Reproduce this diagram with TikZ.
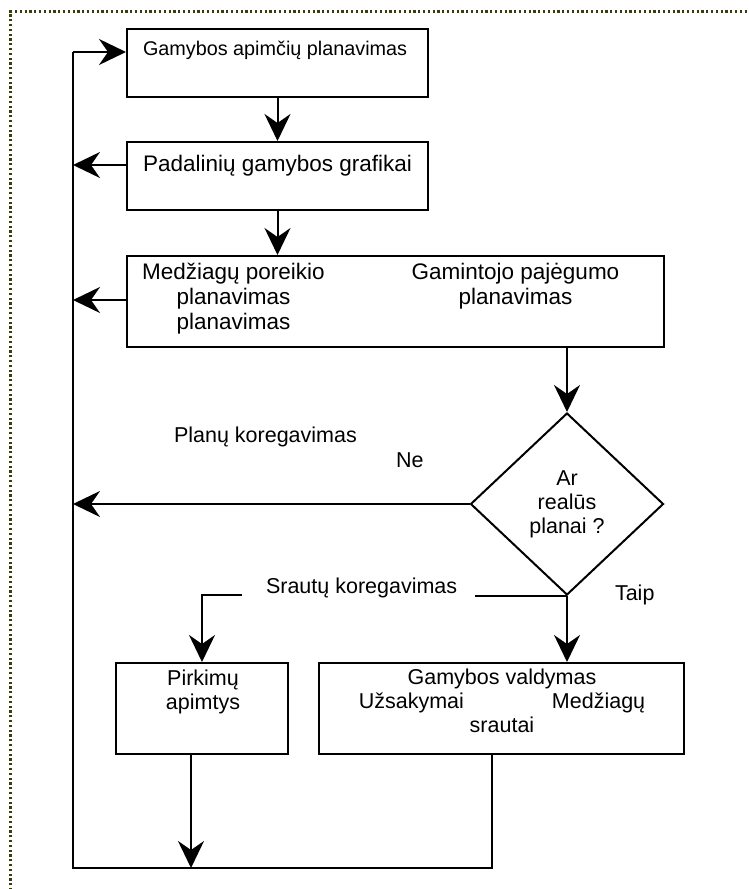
\documentclass[tikz,border=0pt]{standalone}
\usepackage{fontspec}
\setmainfont{Liberation Sans}
\usetikzlibrary{arrows.meta,shapes.geometric}
\definecolor{frameol}{RGB}{60,60,10}

\begin{document}
\begin{tikzpicture}[x=1pt,y=-1pt,line width=2pt,
    box/.style={draw,rectangle,inner sep=0pt},
    txt/.style={inner sep=0pt,align=center,font=\fontsize{21.5}{24}\selectfont},
    bigtxt/.style={txt,font=\fontsize{22.5}{25}\selectfont},
    smalltxt/.style={txt,font=\fontsize{19.8}{22}\selectfont},
    arr/.style={-{Stealth[length=27pt,width=26pt,inset=9pt]}},
    frame/.style={draw=frameol,line width=2.4pt,dash pattern=on 2.2pt off 2.6pt}]
  \useasboundingbox (0,0) rectangle (749,889);
  \draw[frame] (10.5,895) |- (755,11.5);
  % boxes
  \node[box,minimum width=301pt,minimum height=68pt] (plan) at (277.5,63) {};
  \node[box,minimum width=301pt,minimum height=68pt] (graf) at (277.5,176) {};
  \node[box,minimum width=537pt,minimum height=91pt] (poreik) at (395.5,301.5) {};
  \node[draw,diamond,minimum width=193pt,minimum height=182pt,txt] (realu) at (567,504) {Ar\\realūs\\planai ?};
  \node[box,minimum width=172pt,minimum height=91pt] (pirk) at (202,708.5) {};
  \node[box,minimum width=365pt,minimum height=91pt] (valdym) at (501.5,708.5) {};
  % texts
  \node[smalltxt,anchor=base west] (planTxt) at (142,55) {Gamybos apimčių planavimas};
  \node[bigtxt,anchor=base west] (grafTxt) at (142,171) {Padalinių gamybos grafikai};
  \node[bigtxt,anchor=north] (medzTxt) at (233.5,262) {Medžiagų poreikio\\planavimas\\planavimas};
  \node[bigtxt,anchor=north] (pajegTxt) at (515.5,262) {Gamintojo pajėgumo\\planavimas};
  \node[txt,anchor=north] (pirkTxt) at (203,669) {Pirkimų\\apimtys};
  \node[txt,anchor=north] (valdTxt) at (502,668) {Gamybos valdymas\\Užsakymai\hspace{88pt}Medžiagų\\srautai};
  \node[txt,anchor=base west] (planuKor) at (173,442) {Planų koregavimas};
  \node[txt,anchor=base west] (ne) at (395,467) {Ne};
  \node[txt,anchor=base west] (srautuKor) at (265,593) {Srautų koregavimas};
  \node[txt,anchor=base west] (taip) at (614,600) {Taip};
  % loop back
  \coordinate (topL) at (73,52);
  \coordinate (botL) at (73,868);
  \coordinate (botR) at (492,868);
  \coordinate (srL) at (242,595);
  \coordinate (srR) at (475,595);
  \draw[arr] (plan) -- (graf);
  \draw[arr] (graf.south) -- (graf.south |- poreik.north);
  \draw[arr] (realu.north |- poreik.south) -- (realu.north);
  \draw[arr] (topL) -- (topL -| plan.west);
  \draw[arr] ([yshift=11pt]graf.west) coordinate (g) -- (g -| topL);
  \draw[arr] ([yshift=1.5pt]poreik.west) coordinate (m) -- (m -| topL);
  \draw[arr] (realu.west) -- (realu.west -| topL);
  \draw (topL) -- (botL) -- (botR) -- (botR |- valdym.south);
  \draw (realu.south) -- (realu.south -| srR);
  \draw[arr] (srL) -| (pirk.north);
  \draw[arr] (realu.south) -- (realu.south |- valdym.north);
  \draw[arr] ([xshift=-11pt]pirk.south) coordinate (p) -- (p |- botL);
\end{tikzpicture}
\end{document}
